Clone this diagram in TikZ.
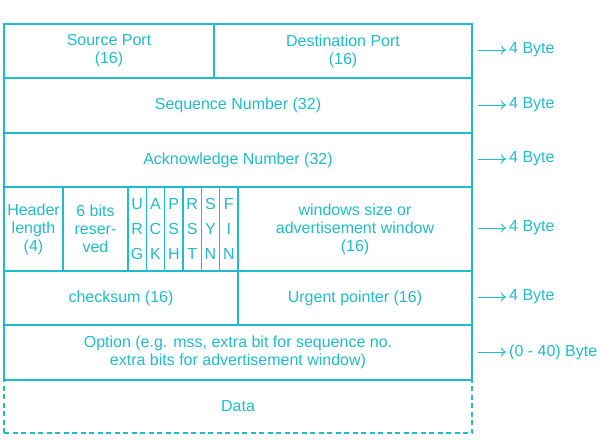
\documentclass[tikz,border=0pt]{standalone}
\usepackage{fontspec}
\setmainfont{Liberation Sans}
\usetikzlibrary{arrows.meta}
\definecolor{tb}{RGB}{30,188,204}
\tikzset{
  cell/.style={draw=tb, line width=1.3pt, text=tb, inner sep=0pt, align=center,
    font=\fontsize{16}{18}\selectfont},
  flag/.style={cell, minimum width=18.33pt, minimum height=84pt, font=\fontsize{16}{25}\selectfont},
  lab/.style={text=tb, anchor=west, inner sep=0pt, font=\fontsize{16}{18}\selectfont},
  arr/.style={draw=tb, line width=1pt, -{To[length=5pt,width=9pt]}}
}
\begin{document}
\begin{tikzpicture}[x=1pt,y=-1pt]
\useasboundingbox (0,0) rectangle (602,440);
% row 1
\node[cell, minimum width=210pt, minimum height=54pt] (sp) at (109,51) {Source Port\\(16)};
\node[cell, minimum width=258pt, minimum height=54pt] (dp) at (343,51) {Destination Port\\(16)};
% row 2
\node[cell, minimum width=468pt, minimum height=55pt] (sn) at (238,105.5) {Sequence Number (32)};
% row 3
\node[cell, minimum width=468pt, minimum height=54pt] (an) at (238,160) {Acknowledge Number (32)};
% row 4
\node[cell, minimum width=59pt, minimum height=84pt] (hl) at (33.5,229) {Header\\length\\(4)};
\node[cell, minimum width=65pt, minimum height=84pt] (rs) at (95.5,229) {6 bits\\reser-\\ved};
\node[flag] (urg) at (137.17,229) {U\\R\\G};
\node[flag] (ack) at (155.5,229) {A\\C\\K};
\node[flag] (psh) at (173.83,229) {P\\S\\H};
\node[flag] (rst) at (192.17,229) {R\\S\\T};
\node[flag] (syn) at (210.5,229) {S\\Y\\N};
\node[flag] (fin) at (228.83,229) {F\\I\\N};
\node[cell, minimum width=234pt, minimum height=84pt] (ws) at (355,229) {windows size or\\advertisement window\\(16)};
% row 5
\node[cell, minimum width=234pt, minimum height=54pt] (cs) at (121,298) {checksum (16)};
\node[cell, minimum width=234pt, minimum height=54pt] (up) at (355,298) {Urgent pointer (16)};
% row 6
\node[cell, minimum width=468pt, minimum height=55pt] (op) at (238,352.5) {Option (e.g. mss, extra bit for sequence no.\\extra bits for advertisement window)};
% data
\node[cell, dash pattern=on 5pt off 3.5pt, minimum width=468pt, minimum height=53pt] (da) at (238,406.5) {Data};
% byte labels
\node[lab] (b1) at (509,50) {4 Byte};
\node[lab] (b2) at (509,105) {4 Byte};
\node[lab] (b3) at (509,159) {4 Byte};
\node[lab] (b4) at (509,228) {4 Byte};
\node[lab] (b5) at (509,297) {4 Byte};
\node[lab] (b6) at (509,352) {(0 - 40) Byte};
\draw[arr] ([xshift=5pt]dp.east |- b1.west) -- ([xshift=-3pt]b1.west);
\draw[arr] ([xshift=5pt]sn.east |- b2.west) -- ([xshift=-3pt]b2.west);
\draw[arr] ([xshift=5pt]an.east |- b3.west) -- ([xshift=-3pt]b3.west);
\draw[arr] ([xshift=5pt]ws.east |- b4.west) -- ([xshift=-3pt]b4.west);
\draw[arr] ([xshift=5pt]up.east |- b5.west) -- ([xshift=-3pt]b5.west);
\draw[arr] ([xshift=5pt]op.east |- b6.west) -- ([xshift=-3pt]b6.west);
\end{tikzpicture}
\end{document}
